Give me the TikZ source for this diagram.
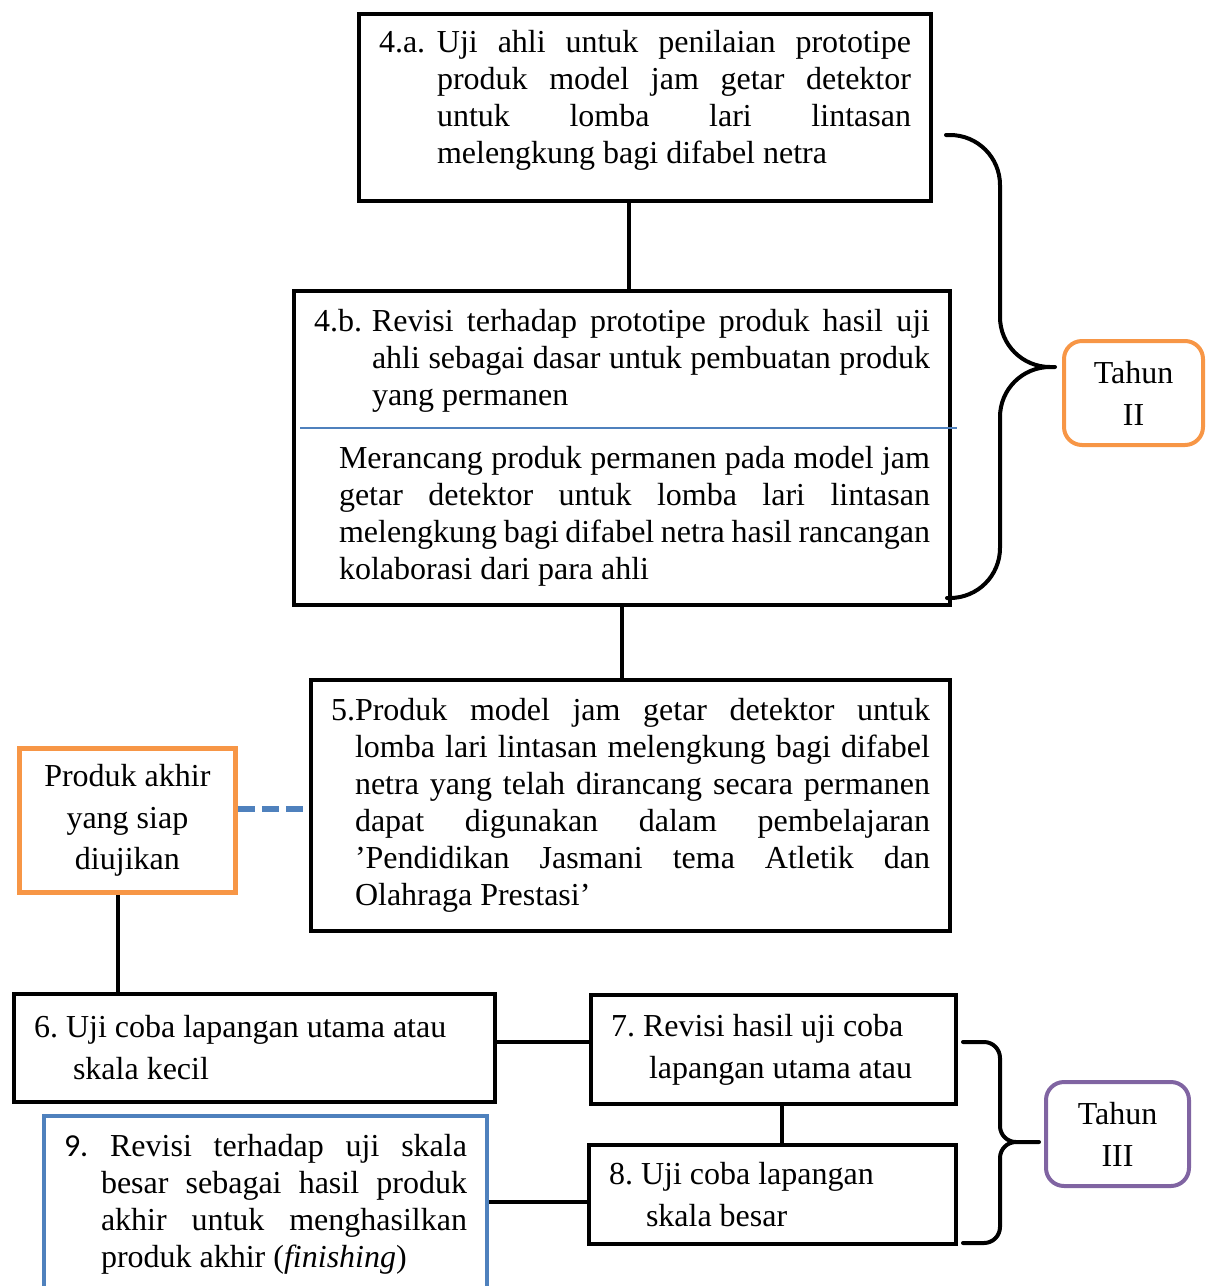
\documentclass[tikz,border=0pt]{standalone}
\usepackage{fontspec}
\setmainfont{Liberation Serif}
\newfontfamily\numfont{Carlito}
\usepackage{tikz}
\definecolor{orangeline}{HTML}{F79646}
\definecolor{blueline}{HTML}{4F81BD}
\definecolor{purpleline}{HTML}{8064A2}
\hyphenpenalty=10000
\exhyphenpenalty=10000
\frenchspacing

\begin{document}
\begin{tikzpicture}[
    x=0.5pt, y=-0.5pt,
    stepbox/.style={draw, line width=2pt, anchor=north west, inner xsep=10pt, align=justify, font=\fontsize{16}{18.5}\selectfont},
    shortbox/.style={stepbox, font=\fontsize{16}{21}\selectfont},
    endbox/.style={draw=orangeline, line width=2.4pt, anchor=north west, align=center, font=\fontsize{16}{20.75}\selectfont},
    yearbox/.style={draw, line width=2pt, rounded corners=9pt, anchor=north west, align=center, font=\fontsize{16}{21}\selectfont},
    link/.style={line width=2pt},
    bracket/.style={line width=2pt, line cap=round},
    divline/.style={blueline, line width=0.8pt}
]

\useasboundingbox (0,0) rectangle (1210,1286);

\node[stepbox, minimum width=286pt, minimum height=93.5pt, text width=266pt] (b4a) at (357,12)
    {\hangindent=29pt\hangafter=1\noindent\makebox[29pt][l]{4.a.}Uji ahli untuk penilaian prototipe\linebreak
     produk model jam getar detektor\linebreak
     untuk lomba lari lintasan\linebreak
     melengkung bagi difabel netra\rule[-11pt]{0pt}{11pt}\par};

\node[stepbox, minimum width=328pt, minimum height=157pt, text width=308pt] (b4b) at (292,289)
    {\hangindent=29pt\hangafter=1\noindent\makebox[29pt][l]{4.b.}Revisi terhadap prototipe produk hasil uji\linebreak
     ahli sebagai dasar untuk pembuatan produk\linebreak
     yang permanen\par
     \vspace{13pt}\leftskip=12.5pt
     Merancang produk permanen pada model jam\linebreak
     getar detektor untuk lomba lari lintasan\linebreak
     melengkung bagi difabel netra hasil rancangan\linebreak
     kolaborasi dari para ahli\par};
\draw[divline] (300,428) -- (957,428);

\node[stepbox, minimum width=319.5pt, minimum height=125.5pt, text width=299.5pt] (b5) at (309,678)
    {\hangindent=12pt\hangafter=1\noindent 5.Produk model jam getar detektor untuk\linebreak
     lomba lari lintasan melengkung bagi difabel\linebreak
     netra yang telah dirancang secara permanen\linebreak
     dapat digunakan dalam pembelajaran\linebreak
     ’Pendidikan Jasmani tema Atletik dan\linebreak
     Olahraga Prestasi’\par};

\node[endbox, minimum width=108pt, minimum height=72pt] (akhir) at (17,746)
    {Produk akhir\\yang siap\\diujikan};

\node[shortbox, minimum width=240.5pt, minimum height=54pt, text width=220.5pt] (b6) at (12,992)
    {\hangindent=19.5pt\hangafter=1\noindent 6. Uji coba lapangan utama atau\hfill\break
     skala kecil\par};

\node[shortbox, minimum width=182.5pt, minimum height=54.5pt, text width=162.5pt] (b7) at (589,993)
    {\hangindent=19pt\hangafter=1\noindent 7. Revisi hasil uji coba\hfill\break
     lapangan utama atau\par};

\node[shortbox, minimum width=183.5pt, minimum height=49.5pt, text width=163.5pt] (b8) at (587,1143)
    {\hangindent=18.5pt\hangafter=1\noindent 8. Uji coba lapangan\hfill\break
     skala besar\par};

\node[stepbox, draw=blueline, minimum width=221.5pt, minimum height=88.5pt, text width=201.5pt] (b9) at (42,1114)
    {\hangindent=18.5pt\hangafter=1\noindent{\numfont 9.} Revisi terhadap uji skala\linebreak
     besar sebagai hasil produk\linebreak
     akhir untuk menghasilkan\linebreak
     produk akhir (\textit{finishing})\par};

\node[yearbox, draw=orangeline, minimum width=69.5pt, minimum height=52pt] (tahun2) at (1062,339) {Tahun\\II};
\node[yearbox, draw=purpleline, minimum width=71.5pt, minimum height=52pt] (tahun3) at (1044,1080) {Tahun\\III};

\coordinate (tip2) at (1055,367);
\coordinate (tip3) at (1039,1142);

\draw[link] (b4a.south -| 629,0) -- (b4b.north -| 629,0);
\draw[link] (b4b.south -| 622,0) -- (b5.north -| 622,0);
\draw[link, blueline, line width=3pt, dash pattern=on 8.5pt off 3.5pt] (akhir.east |- 0,809) -- (b5.west |- 0,809);
\draw[link] (akhir.south -| 118,0) -- (b6.north -| 118,0);
\draw[link] (b6.east |- 0,1042) -- (b7.west |- 0,1042);
\draw[link] (b7.south -| 782,0) -- (b8.north -| 782,0);
\draw[link] (b9.east |- 0,1202) -- (b8.west |- 0,1202);

\draw[bracket, rounded corners=25pt] (946,135) -| (1000,367) -- (tip2)
    (tip2) -- (1000,367) |- (947,598);
\draw[bracket, rounded corners=8pt] (963,1042) -| (1000,1142) -- (tip3)
    (tip3) -- (1000,1142) |- (963,1243);

\end{tikzpicture}
\end{document}
